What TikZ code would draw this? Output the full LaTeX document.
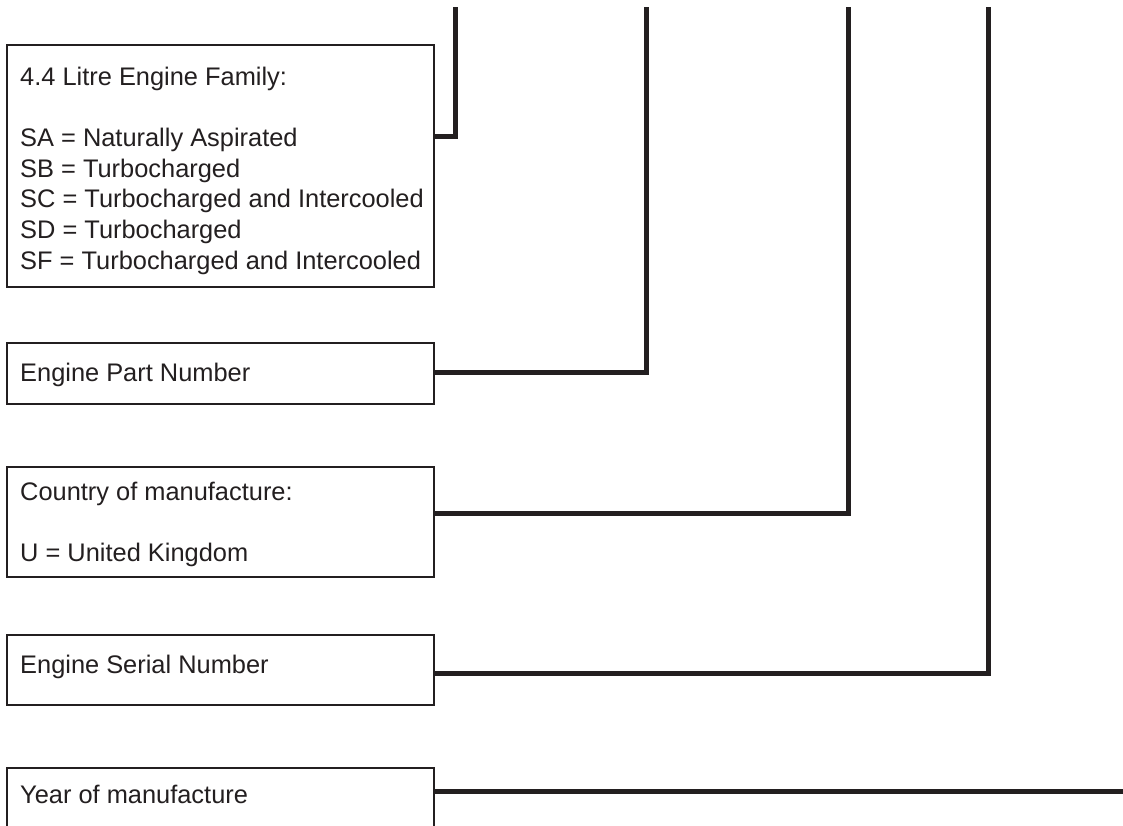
\documentclass[tikz,border=0pt]{standalone}
\usepackage{fontspec}
\setmainfont{Liberation Sans}
\definecolor{ink}{RGB}{35,31,32}
\begin{document}
\begin{tikzpicture}[x=1pt,y=-1pt,
  box/.style={draw=ink,line width=2.8pt,rectangle,inner sep=0pt,outer sep=0pt,anchor=north west},
  lbl/.style={anchor=base west,inner sep=0pt,text=ink,font=\fontsize{25.4}{30.5}\selectfont},
  conn/.style={draw=ink,line width=5pt,line cap=butt,line join=miter}]
\useasboundingbox (0,0) rectangle (1123,826);
\clip (0,0) rectangle (1123,826);
\fill[white] (0,0) rectangle (1123,826);
% boxes
\node[box,minimum width=427pt,minimum height=242pt] (b1) at (7,45) {};
\node[box,minimum width=427pt,minimum height=61pt] (b2) at (7,343) {};
\node[box,minimum width=427pt,minimum height=110pt] (b3) at (7,467) {};
\node[box,minimum width=427pt,minimum height=70pt] (b4) at (7,635) {};
\node[box,minimum width=427pt,minimum height=90pt] (b5) at (7,768) {};
% texts
\node[lbl] (l1a) at (20,86) {4.4 Litre Engine Family:};
\node[lbl] (l1b) at (20,147) {SA = Naturally Aspirated};
\node[lbl] (l1c) at (20,177.5) {SB = Turbocharged};
\node[lbl] (l1d) at (20,208) {SC = Turbocharged and Intercooled};
\node[lbl] (l1e) at (20,238.5) {SD = Turbocharged};
\node[lbl] (l1f) at (20,269) {SF = Turbocharged and Intercooled};
\node[lbl] (l2) at (20,381) {Engine Part Number};
\node[lbl] (l3a) at (20,500) {Country of manufacture:};
\node[lbl] (l3b) at (20,561) {U = United Kingdom};
\node[lbl] (l4) at (20,673) {Engine Serial Number};
\node[lbl] (l5) at (20,803) {Year of manufacture};
% connector points
\coordinate (t1) at (455,7);
\coordinate (t2) at (646,7);
\coordinate (t3) at (848,7);
\coordinate (t4) at (988,7);
\coordinate (j1) at (455,137);
\coordinate (j2) at (646,372);
\coordinate (j3) at (848,513);
\coordinate (j4) at (988,673);
\coordinate (e5) at (1130,791);
% connectors
\draw[conn] (b1.east |- j1) -- (j1) -- (t1);
\draw[conn] (b2.east |- j2) -- (j2) -- (t2);
\draw[conn] (b3.east |- j3) -- (j3) -- (t3);
\draw[conn] (b4.east |- j4) -- (j4) -- (t4);
\draw[conn] (b5.east |- e5) -- (e5);
\end{tikzpicture}
\end{document}
